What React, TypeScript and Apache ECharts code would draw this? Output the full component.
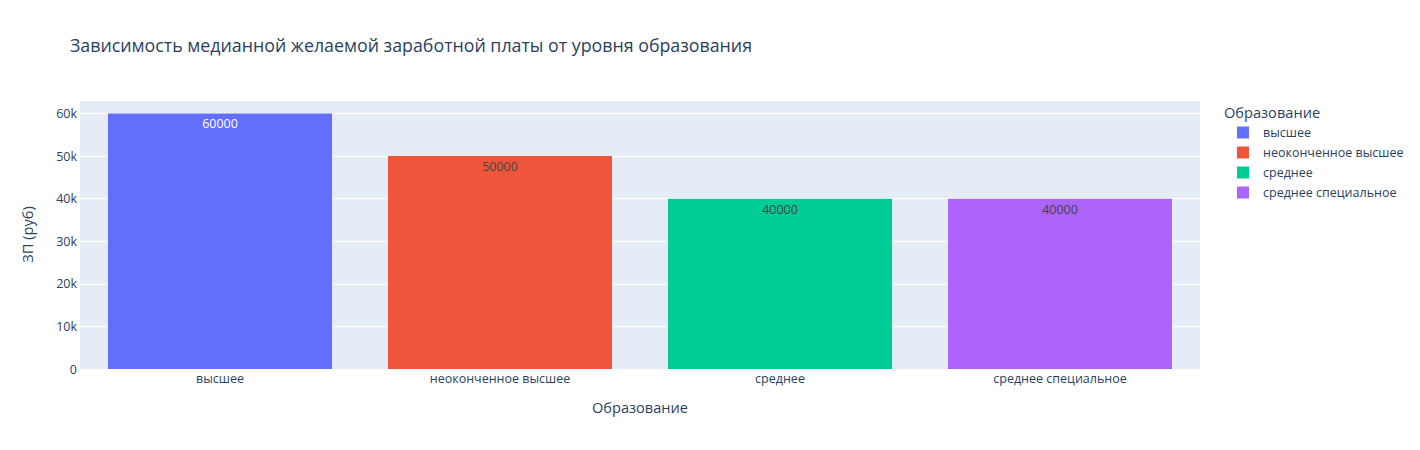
import React, { useEffect, useRef } from "react";
import * as echarts from "echarts";

const categories = ["высшее", "неоконченное высшее", "среднее", "среднее специальное"];
const values = [60000, 50000, 40000, 40000];
const colors = ["#636EFA", "#EF553B", "#00CC96", "#AB63FA"];
const labelColors = ["#ffffff", "#444444", "#444444", "#444444"];
const yTicks = [0, 10000, 20000, 30000, 40000, 50000, 60000];

const FONT = '"Open Sans", verdana, arial, sans-serif';
const TXT = "#2a3f5f";
const FS = 12.5;

export default function App() {
  const ref = useRef<HTMLDivElement>(null);
  useEffect(() => {
    document.body.style.margin = "0";
    const chart = echarts.init(ref.current!, null, { renderer: "svg" });
    const yMax = Math.max(...values) * 1.0526;
    const series = categories.map((c, i) => ({
      name: c,
      type: "bar",
      stack: "all",
      barWidth: "80%",
      data: categories.map((_, j) => (j === i ? values[i] : "-")),
      itemStyle: { color: colors[i], borderColor: colors[i], borderWidth: 0 },
      label: {
        show: true,
        position: "insideTop",
        distance: 4,
        color: labelColors[i],
        fontFamily: FONT,
        fontSize: FS,
      },
    }));
    chart.setOption({
      animation: false,
      textStyle: { fontFamily: FONT },
      title: {
        text: "Зависимость медианной желаемой заработной платы от уровня образования",
        left: 70,
        top: 36,
        padding: 0,
        textStyle: { fontFamily: FONT, fontSize: 17.8, fontWeight: "normal", color: TXT },
      },
      grid: {
        left: 80,
        right: 220,
        top: 100,
        bottom: 81,
        show: true,
        backgroundColor: "#E5ECF6",
        borderWidth: 0,
      },
      legend: {
        orient: "vertical",
        left: 1232,
        top: 121,
        itemWidth: 12,
        itemHeight: 12,
        itemGap: 7,
        icon: "rect",
        data: categories,
        formatter: (n: string) => `{t|${n}}`,
        textStyle: {
          fontFamily: FONT,
          fontSize: FS,
          color: TXT,
          rich: { t: { fontFamily: FONT, fontSize: FS, color: TXT, padding: [0, 0, 0, 9] } },
        },
      },
      graphic: [
        {
          type: "text",
          left: 1224,
          top: 104,
          style: { text: "Образование", font: `14.6px ${FONT}`, fill: TXT },
        },
      ],
      xAxis: {
        type: "category",
        data: categories,
        name: "Образование",
        nameLocation: "middle",
        nameGap: 30,
        nameTextStyle: { fontFamily: FONT, fontSize: 14.6, color: TXT },
        axisLine: { show: false },
        axisTick: { show: false },
        axisLabel: { fontFamily: FONT, fontSize: FS, color: TXT, margin: 3 },
      },
      yAxis: {
        type: "value",
        min: 0,
        max: yMax,
        interval: 10000,
        name: "ЗП (руб)",
        nameLocation: "middle",
        nameGap: 46,
        nameTextStyle: { fontFamily: FONT, fontSize: 14.6, color: TXT },
        axisLine: { show: false },
        axisTick: { show: false },
        splitLine: { lineStyle: { color: "#ffffff", width: 1 } },
        axisLabel: {
          fontFamily: FONT,
          fontSize: FS,
          color: TXT,
          margin: 3,
          showMaxLabel: false,
          formatter: (v: number) =>
            yTicks.includes(Math.round(v)) ? (v === 0 ? "0" : `${v / 1000}k`) : "",
        },
      },
      series,
    });
    return () => chart.dispose();
  }, []);
  return <div ref={ref} style={{ width: 1420, height: 450 }} />;
}
